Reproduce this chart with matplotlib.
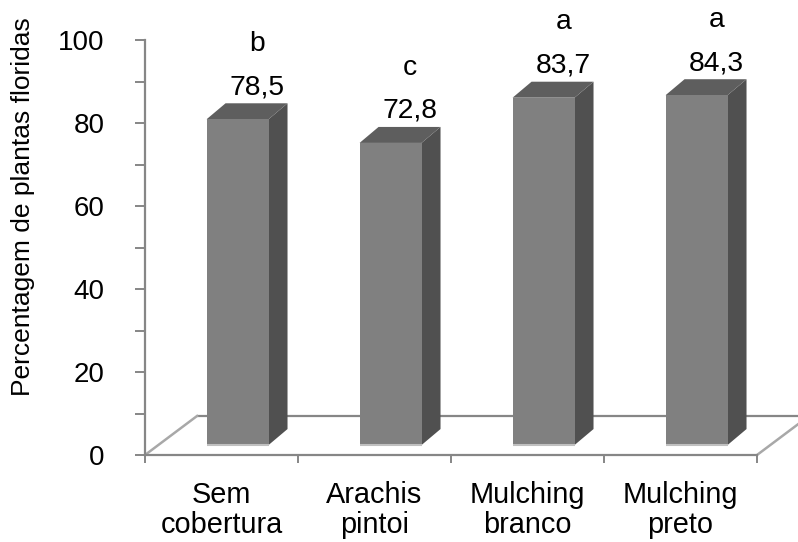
import numpy as np
import matplotlib
matplotlib.use('Agg')
import matplotlib.pyplot as plt
from matplotlib.patches import Polygon

plt.rcParams['font.family'] = ['Liberation Sans', 'DejaVu Sans']

categories = ['Sem\ncobertura', 'Arachis\npintoi', 'Mulching\nbranco', 'Mulching\npreto']
values = [78.5, 72.8, 83.7, 84.3]
letters = ['b', 'c', 'a', 'a']

# fake 3d: depth offsets in data units
floor_dx, floor_dy = 0.34, 9.4     # depth of the floor
front_dx, front_dy = 0.105, 2.4    # where the bar front sits inside the floor
bar_dx, bar_dy = 0.124, 3.85       # depth of each bar
bar_w = 0.405

fig = plt.figure(figsize=(7.98, 5.42), dpi=100)
W, H = 798, 542
ax = fig.add_axes([145 / W, (H - 455) / H, (798 - 145) / W, (455 - 40) / H])
ax.set_xlim(-0.5, -0.5 + (798 - 145) / 153)
ax.set_ylim(0, 100)

gray = '#868686'
# floor
ax.plot([-0.5 + floor_dx, 3.5 + floor_dx + 1], [floor_dy, floor_dy], color=gray, lw=1.6, zorder=1,
        solid_capstyle='butt')
ax.plot([-0.5, -0.5 + floor_dx], [0, floor_dy], color='#a8a8a8', lw=1.8, zorder=1)
ax.plot([3.5, 3.5 + floor_dx], [0, floor_dy], color='#a8a8a8', lw=1.8, zorder=1, clip_on=False)

for i, v in enumerate(values):
    x0 = i + front_dx - bar_w / 2
    x1 = x0 + bar_w
    y0 = front_dy
    y1 = front_dy + v
    front = Polygon([(x0, y0), (x1, y0), (x1, y1), (x0, y1)], closed=True,
                    facecolor='#808080', edgecolor='none', zorder=3)
    side = Polygon([(x1, y0), (x1 + bar_dx, y0 + bar_dy), (x1 + bar_dx, y1 + bar_dy), (x1, y1)],
                   closed=True, facecolor='#505050', edgecolor='none', zorder=3)
    top = Polygon([(x0, y1), (x1, y1), (x1 + bar_dx, y1 + bar_dy), (x0 + bar_dx, y1 + bar_dy)],
                  closed=True, facecolor='#5e5e5e', edgecolor='none', zorder=3)
    ax.add_patch(side)
    ax.add_patch(top)
    ax.add_patch(front)
    ax.plot([x0, x1], [y0, y0], color='#c0c0c0', lw=1.5, zorder=4, solid_capstyle='butt')

    lx = i + front_dx + bar_dx + 0.005
    ly = y1 + bar_dy + 3.9
    ax.text(lx, ly, f'{v:.1f}'.replace('.', ','), ha='center', va='center', fontsize=20.3)
    ax.text(lx, ly + 10.4, letters[i], ha='center', va='center', fontsize=20.3)

for s in ['top', 'right']:
    ax.spines[s].set_visible(False)
ax.spines['left'].set_bounds(0, 100)
ax.spines['bottom'].set_bounds(-0.5, 3.5)
for s in ['left', 'bottom']:
    ax.spines[s].set_color(gray)
    ax.spines[s].set_linewidth(1.6)

ax.set_yticks(np.arange(0, 101, 20))
ax.set_yticks(np.arange(10, 100, 20), minor=True)
ax.tick_params(axis='y', which='both', direction='out', length=7, width=1.4, color=gray,
               labelsize=20, pad=22)

ax.set_xticks(range(len(categories)))
ax.set_xticklabels(categories)
ax.set_xticks(np.arange(-0.5, 3.6, 1), minor=True)
ax.tick_params(axis='x', which='major', length=0, labelsize=20.8, pad=19)
ax.tick_params(axis='x', which='minor', direction='out', length=6, width=1.4, color=gray)
for lab in ax.get_xticklabels():
    lab.set_linespacing(1.07)

fig.text(23 / W, 1 - 207 / H, 'Percentagem de plantas floridas', rotation=90,
         ha='center', va='center', fontsize=19)

fig.savefig('out.png', dpi=100)
